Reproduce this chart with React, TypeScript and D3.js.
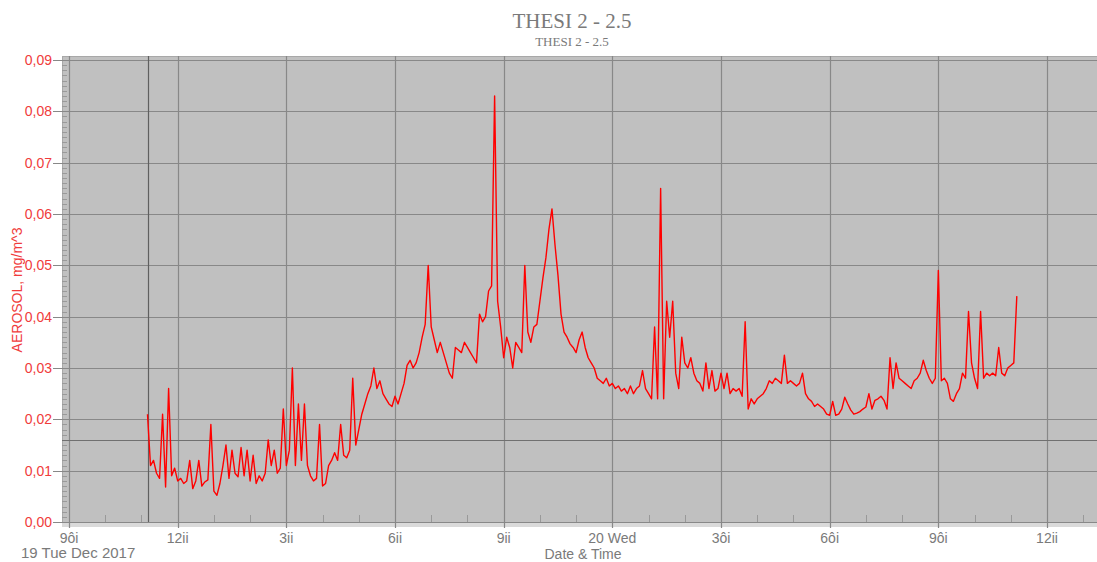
import { useEffect, useRef } from 'react';
import * as d3 from 'd3';

// Aerosol readings, one every 5 minutes from 11:10 on 19 Dec 2017
const startTime = new Date(2017, 11, 19, 11, 10);
const stepMinutes = 5;
const aerosol = [
  0.021, 0.011, 0.012, 0.0095, 0.0085, 0.021, 0.0068, 0.026, 0.009, 0.0105,
  0.008, 0.0085, 0.0075, 0.008, 0.012, 0.0065, 0.008, 0.012, 0.007, 0.0078,
  0.0082, 0.019, 0.006, 0.0052, 0.0075, 0.011, 0.015, 0.0085, 0.014, 0.0095,
  0.0088, 0.0145, 0.009, 0.014, 0.008, 0.013, 0.0075, 0.009, 0.008, 0.0095,
  0.016, 0.011, 0.014, 0.0095, 0.0105, 0.022, 0.011, 0.014, 0.030, 0.011,
  0.023, 0.012, 0.023, 0.011, 0.009, 0.008, 0.0085, 0.019, 0.007, 0.0075,
  0.011, 0.012, 0.0135, 0.012, 0.019, 0.013, 0.0125, 0.014, 0.028, 0.015,
  0.018, 0.021, 0.023, 0.025, 0.0265, 0.030, 0.026, 0.0275, 0.025, 0.024,
  0.023, 0.0225, 0.0245, 0.023, 0.025, 0.027, 0.0305, 0.0315, 0.030, 0.031,
  0.033, 0.036, 0.0385, 0.050, 0.038, 0.0355, 0.033, 0.035, 0.033, 0.031,
  0.029, 0.028, 0.034, 0.0335, 0.033, 0.035, 0.034, 0.033, 0.032, 0.031,
  0.0405, 0.039, 0.040, 0.045, 0.046, 0.083, 0.043, 0.038, 0.032, 0.036,
  0.034, 0.030, 0.035, 0.034, 0.033, 0.050, 0.037, 0.035, 0.038, 0.0385,
  0.043, 0.0475, 0.0515, 0.057, 0.061, 0.054, 0.048, 0.0405, 0.037, 0.036,
  0.0347, 0.034, 0.033, 0.0355, 0.037, 0.034, 0.032, 0.031, 0.030, 0.028,
  0.0275, 0.027, 0.028, 0.0265, 0.027, 0.026, 0.0265, 0.0255, 0.026, 0.025,
  0.0265, 0.025, 0.026, 0.0265, 0.0295, 0.026, 0.025, 0.024, 0.038, 0.024,
  0.065, 0.024, 0.043, 0.036, 0.043, 0.029, 0.026, 0.036, 0.031, 0.030,
  0.032, 0.029, 0.0275, 0.027, 0.0255, 0.031, 0.026, 0.0295, 0.0255, 0.026,
  0.029, 0.026, 0.029, 0.025, 0.026, 0.0255, 0.026, 0.0245, 0.039, 0.022,
  0.024, 0.023, 0.024, 0.0245, 0.025, 0.026, 0.0275, 0.027, 0.028, 0.0275,
  0.027, 0.0325, 0.027, 0.0275, 0.027, 0.0265, 0.027, 0.029, 0.025, 0.024,
  0.0235, 0.0225, 0.023, 0.0225, 0.022, 0.021, 0.0208, 0.0235, 0.0208, 0.021,
  0.022, 0.0243, 0.023, 0.0218, 0.021, 0.0212, 0.0215, 0.022, 0.0224, 0.025,
  0.022, 0.0237, 0.024, 0.0245, 0.0237, 0.022, 0.032, 0.026, 0.031, 0.028,
  0.0275, 0.027, 0.0265, 0.026, 0.0275, 0.028, 0.029, 0.0315, 0.0295, 0.028,
  0.027, 0.028, 0.049, 0.0275, 0.028, 0.027, 0.024, 0.0235, 0.025, 0.026,
  0.029, 0.028, 0.041, 0.031, 0.028, 0.026, 0.041, 0.028, 0.029, 0.0285,
  0.029, 0.0285, 0.034, 0.029, 0.0285, 0.030, 0.0305, 0.031, 0.044,
];

const yTicks = [0, 0.01, 0.02, 0.03, 0.04, 0.05, 0.06, 0.07, 0.08, 0.09];
const xTickTimes = [
  new Date(2017, 11, 19, 9), new Date(2017, 11, 19, 12), new Date(2017, 11, 19, 15),
  new Date(2017, 11, 19, 18), new Date(2017, 11, 19, 21), new Date(2017, 11, 20, 0),
  new Date(2017, 11, 20, 3), new Date(2017, 11, 20, 6), new Date(2017, 11, 20, 9),
  new Date(2017, 11, 20, 12),
];
const xTickLabels = ['9ôi', '12ii', '3ii', '6ii', '9ii', '20 Wed', '3ôi', '6ôi', '9ôi', '12ii'];
const thresholdValue = 0.016;
const markerTime = new Date(2017, 11, 19, 11, 11);

const App = () => {
  const svgRef = useRef(null);

  useEffect(() => {
    const svg = d3.select(svgRef.current);
    svg.selectAll('*').remove();

    const W = 1097;
    const plotLeft = 62, plotTop = 56, plotBottom = 522;

    const x = d3.scaleTime()
      .domain([new Date(2017, 11, 19, 9), new Date(2017, 11, 20, 12)])
      .range([69, 1047]);
    const y = d3.scaleLinear().domain([0, 0.09]).range([522, 60]);

    const fmt = (v) => d3.format('.2f')(v).replace('.', ',');
    const sans = '"Liberation Sans", Arial, sans-serif';

    // titles
    svg.append('text')
      .attr('x', 572).attr('y', 28)
      .attr('text-anchor', 'middle')
      .style('font-family', '"Liberation Serif", serif')
      .style('font-size', '21px')
      .attr('fill', '#7a7a7a')
      .text('THESI 2 - 2.5');
    svg.append('text')
      .attr('x', 572).attr('y', 46)
      .attr('text-anchor', 'middle')
      .style('font-family', '"Liberation Serif", serif')
      .style('font-size', '13px')
      .attr('fill', '#7a7a7a')
      .text('THESI 2 - 2.5');

    // plot background
    svg.append('rect')
      .attr('x', plotLeft).attr('y', plotTop)
      .attr('width', W - plotLeft).attr('height', plotBottom - plotTop)
      .attr('fill', '#c0c0c0');
    svg.append('rect')
      .attr('x', plotLeft).attr('y', plotBottom)
      .attr('width', W - plotLeft).attr('height', 5)
      .attr('fill', '#dadada');
    svg.append('line')
      .attr('x1', plotLeft).attr('x2', W).attr('y1', plotTop + 0.5).attr('y2', plotTop + 0.5)
      .attr('stroke', '#a8a8a8');
    svg.append('line')
      .attr('x1', plotLeft + 0.5).attr('x2', plotLeft + 0.5).attr('y1', plotTop).attr('y2', plotBottom)
      .attr('stroke', '#a8a8a8');

    // y minor ticks
    const minor = d3.range(0, 0.0901, 0.001);
    svg.append('g').selectAll('line')
      .data(minor)
      .enter()
      .append('line')
      .attr('x1', plotLeft).attr('x2', 67)
      .attr('y1', d => Math.round(y(d)) + 0.5).attr('y2', d => Math.round(y(d)) + 0.5)
      .attr('stroke', '#999');

    // horizontal grid
    svg.append('g').selectAll('line')
      .data(yTicks)
      .enter()
      .append('line')
      .attr('x1', 53).attr('x2', W)
      .attr('y1', d => Math.round(y(d)) + 0.5).attr('y2', d => Math.round(y(d)) + 0.5)
      .attr('stroke', '#888')
      .attr('stroke-width', 1.2);

    // x minor ticks (hourly)
    const hours = d3.timeHour.range(new Date(2017, 11, 19, 9), new Date(2017, 11, 20, 14));
    svg.append('g').selectAll('line')
      .data(hours)
      .enter()
      .append('line')
      .attr('x1', d => Math.round(x(d)) + 0.5).attr('x2', d => Math.round(x(d)) + 0.5)
      .attr('y1', 515).attr('y2', plotBottom)
      .attr('stroke', '#999');

    // vertical grid at major ticks
    svg.append('g').selectAll('line')
      .data(xTickTimes)
      .enter()
      .append('line')
      .attr('x1', d => Math.round(x(d)) + 0.5).attr('x2', d => Math.round(x(d)) + 0.5)
      .attr('y1', plotTop).attr('y2', 528)
      .attr('stroke', '#888')
      .attr('stroke-width', 1.2);

    // threshold and marker lines
    svg.append('line')
      .attr('x1', plotLeft).attr('x2', W)
      .attr('y1', Math.round(y(thresholdValue)) + 0.5).attr('y2', Math.round(y(thresholdValue)) + 0.5)
      .attr('stroke', '#707070')
      .attr('stroke-width', 1.2);
    svg.append('line')
      .attr('x1', Math.round(x(markerTime)) + 0.5).attr('x2', Math.round(x(markerTime)) + 0.5)
      .attr('y1', plotTop).attr('y2', plotBottom)
      .attr('stroke', '#606060')
      .attr('stroke-width', 1.2);

    // y tick labels
    svg.append('g').selectAll('text')
      .data(yTicks)
      .enter()
      .append('text')
      .attr('x', 52).attr('y', d => y(d) + 5)
      .attr('text-anchor', 'end')
      .style('font-family', sans)
      .style('font-size', '14px')
      .attr('fill', '#f03c3c')
      .text(d => fmt(d));

    // x tick labels
    svg.append('g').selectAll('text')
      .data(xTickTimes)
      .enter()
      .append('text')
      .attr('x', d => x(d)).attr('y', 543)
      .attr('text-anchor', 'middle')
      .style('font-family', sans)
      .style('font-size', '14px')
      .attr('fill', '#7a7a7a')
      .text((d, i) => xTickLabels[i]);

    svg.append('text')
      .attr('x', 21).attr('y', 558)
      .style('font-family', sans)
      .style('font-size', '15px')
      .attr('fill', '#7a7a7a')
      .text('19 Tue Dec 2017');

    svg.append('text')
      .attr('x', 583).attr('y', 559)
      .attr('text-anchor', 'middle')
      .style('font-family', sans)
      .style('font-size', '14px')
      .attr('fill', '#7a7a7a')
      .text('Date & Time');

    // y axis label
    svg.append('text')
      .attr('transform', 'rotate(-90)')
      .attr('x', -290).attr('y', 22)
      .attr('text-anchor', 'middle')
      .style('font-family', sans)
      .style('font-size', '14px')
      .attr('fill', '#f03c3c')
      .text('AEROSOL, mg/m^3');

    // data line
    const line = d3.line()
      .x((d, i) => x(d3.timeMinute.offset(startTime, i * stepMinutes)))
      .y(d => y(d));

    svg.append('path')
      .datum(aerosol)
      .attr('d', line)
      .attr('fill', 'none')
      .attr('stroke', '#ff0000')
      .attr('stroke-width', 1.4)
      .attr('stroke-linejoin', 'round');
  }, []);

  return (
    <svg
      ref={svgRef}
      width={1097}
      height={562}
      style={{ position: 'absolute', left: 0, top: 0, background: '#fff' }}
    ></svg>
  );
};

export default App;
